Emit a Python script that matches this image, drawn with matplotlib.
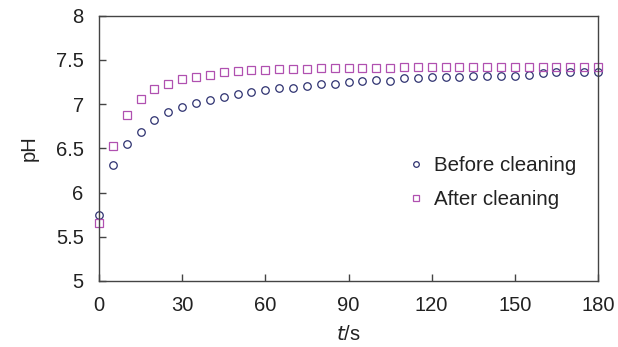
import numpy as np
import matplotlib.pyplot as plt

plt.rcParams['font.family'] = ['Liberation Sans', 'DejaVu Sans']

t = list(range(0, 181, 5))
before = [5.75, 6.31, 6.55, 6.68, 6.82, 6.91, 6.97, 7.01, 7.05, 7.08,
          7.11, 7.14, 7.16, 7.18, 7.18, 7.20, 7.23, 7.23, 7.25, 7.26,
          7.27, 7.26, 7.30, 7.30, 7.31, 7.31, 7.31, 7.32, 7.32, 7.32,
          7.32, 7.33, 7.35, 7.36, 7.36, 7.36, 7.36]
after = [5.66, 6.53, 6.88, 7.06, 7.17, 7.23, 7.28, 7.31, 7.33, 7.36,
         7.37, 7.39, 7.39, 7.40, 7.40, 7.40, 7.41, 7.41, 7.41, 7.41,
         7.41, 7.41, 7.42, 7.42, 7.42, 7.42, 7.42, 7.42, 7.42, 7.42,
         7.42, 7.42, 7.42, 7.42, 7.42, 7.42, 7.42]

navy = '#2e3270'
pink = '#b050b0'
txt = '#222222'

fig = plt.figure(figsize=(6.18, 3.47), dpi=100)
ax = fig.add_axes([99/618, 1 - 281/347, (598-99)/618, (281-15.7)/347])

ax.plot(t, before, linestyle='none', marker='o', ms=5.4, mfc='none',
        mec=navy, mew=0.9, label='Before cleaning', clip_on=False)
ax.plot(t, after, linestyle='none', marker='s', ms=5.6, mfc='none',
        mec=pink, mew=0.9, label='After cleaning', clip_on=False)

ax.set_xlim(0, 180)
ax.set_ylim(5, 8)
ax.set_xticks(np.arange(0, 181, 30))
ax.set_yticks([5, 5.5, 6, 6.5, 7, 7.5, 8])
ax.set_yticklabels(['5', '5.5', '6', '6.5', '7', '7.5', '8'])

for s in ax.spines.values():
    s.set_color('#444444')
    s.set_linewidth(1.0)
ax.tick_params(direction='in', length=5, width=1.0, color='#444444',
               labelsize=14.5, labelcolor=txt, top=False, right=False)
ax.tick_params(axis='x', pad=11)
ax.tick_params(axis='y', pad=11)

ax.set_xlabel('$\\it{t}$/s', fontsize=14.5, color=txt, labelpad=7)
ax.set_ylabel('pH', fontsize=14.5, color=txt, labelpad=12)

ax.legend(loc='upper left', bbox_to_anchor=(410/618, 1 - 156/347),
          bbox_transform=fig.transFigure, frameon=False, fontsize=14.8,
          markerscale=0.75, handlelength=0.6, handletextpad=0.55,
          labelspacing=0.75, borderaxespad=0, borderpad=0.0,
          labelcolor=txt)

fig.savefig('out.png', dpi=100)
